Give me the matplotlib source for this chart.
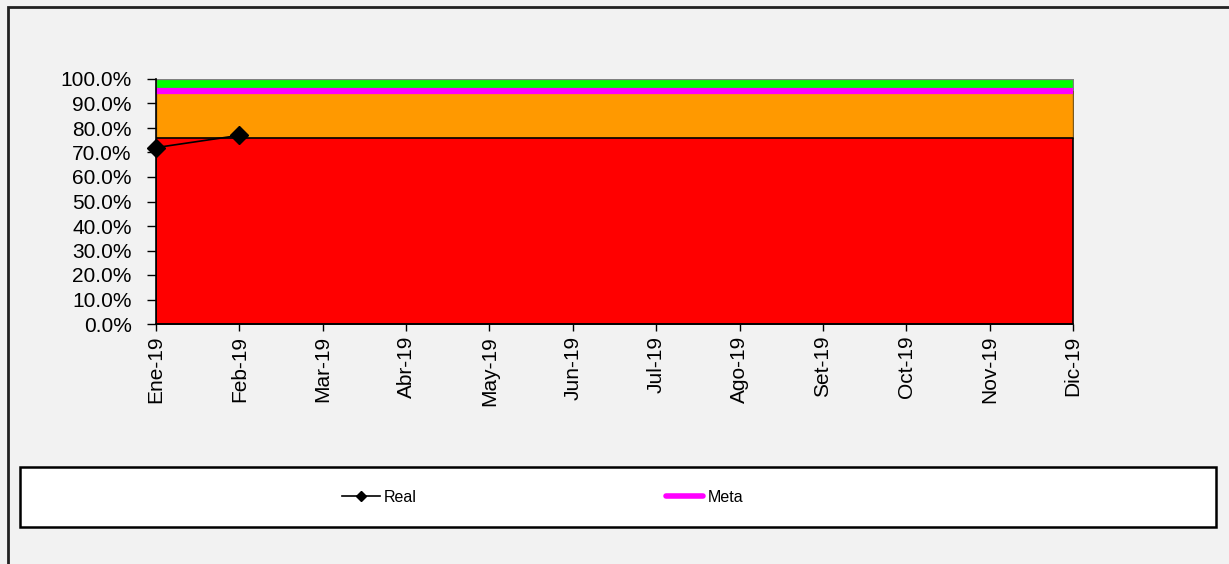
import matplotlib
matplotlib.use("Agg")
import matplotlib.pyplot as plt
from matplotlib.patches import Rectangle
from matplotlib.lines import Line2D
from matplotlib.ticker import PercentFormatter
import numpy as np

months = ["Ene-19", "Feb-19", "Mar-19", "Abr-19", "May-19", "Jun-19",
          "Jul-19", "Ago-19", "Set-19", "Oct-19", "Nov-19", "Dic-19"]
rojo = [0.76] * 12       # banda roja (0 - 76%)
naranja = [0.19] * 12    # banda naranja (76 - 95%)
verde = [0.05] * 12      # banda verde (95 - 100%)
meta = [0.95] * 12
real = [0.72, 0.77]

plt.rcParams["font.family"] = ["Liberation Sans", "DejaVu Sans"]

W, H = 1229, 564
fig = plt.figure(figsize=(W / 100, H / 100), dpi=100, facecolor="#f2f2f2")

# marco exterior y caja de leyenda (en pixeles)
fig.patches.append(Rectangle((8 / W, -0.1), 1.2, 1 - 7 / H + 0.1, transform=fig.transFigure,
                             facecolor="none", edgecolor="#222222", lw=2, zorder=0))
fig.patches.append(Rectangle((20 / W, 1 - 527 / H), (1216 - 20) / W, 60 / H,
                             transform=fig.transFigure, facecolor="white",
                             edgecolor="black", lw=1.8, zorder=0))

ax = fig.add_axes([156 / W, 1 - 324 / H, (1073 - 156) / W, (324 - 79) / H])
ax.set_facecolor("#f2f2f2")
x = np.arange(len(months))

r = np.array(rojo)
o = r + np.array(naranja)
g = o + np.array(verde)
ax.fill_between(x, o, g, facecolor="#00ff00", edgecolor="#808080", lw=1.0, zorder=1)
ax.fill_between(x, r, o, facecolor="#ff9900", edgecolor="#7a5a20", lw=1.0, zorder=1)
ax.fill_between(x, 0, r, facecolor="#ff0000", edgecolor="black", lw=1.2, zorder=2)

ax.plot(x, meta, color="#ff00ff", lw=4.5, solid_capstyle="butt", zorder=3, clip_on=False)
ax.plot(x[:len(real)], real, color="black", lw=1.2, marker="D", markersize=9,
        zorder=4, clip_on=False)

ax.set_xlim(0, 11)
ax.set_ylim(0, 1)
ax.set_yticks(np.arange(0, 1.01, 0.1))
ax.yaxis.set_major_formatter(PercentFormatter(1.0, decimals=1))
ax.set_xticks(x)
ax.set_xticklabels(months, rotation=90)
ax.tick_params(axis="y", direction="out", length=6.5, width=1, pad=11, labelsize=15)
ax.tick_params(axis="x", direction="out", length=5, width=1, pad=3.5, labelsize=15)
for s in ["top", "right"]:
    ax.spines[s].set_visible(False)
for s in ["left", "bottom"]:
    ax.spines[s].set_linewidth(1.2)
    ax.spines[s].set_zorder(5)

handles = [Line2D([], [], color="black", lw=1.2, marker="D", markersize=5),
           Line2D([], [], color="#ff00ff", lw=4, solid_capstyle="round")]
fig.legend(handles, ["Real", "Meta"], loc="center left",
           bbox_to_anchor=(328 / W, 1 - 497 / H), ncol=2, frameon=False,
           fontsize=11.5, handlelength=2.35, handletextpad=0.25, columnspacing=15.6)

fig.savefig("out.png", dpi=100, facecolor=fig.get_facecolor())
